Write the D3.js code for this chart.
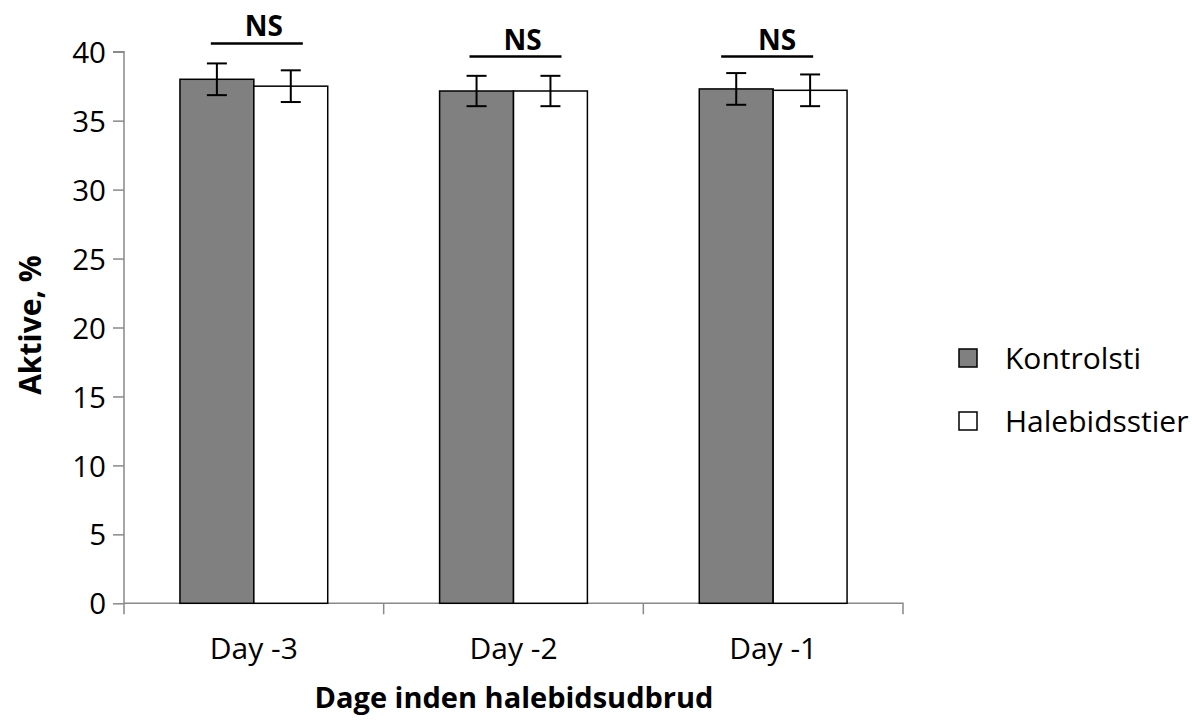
<!DOCTYPE html>
<html><head><meta charset="utf-8">
<script src="https://cdn.jsdelivr.net/npm/d3@7"></script>
<style>body{margin:0;background:#fff}svg{display:block}text{font-family:"Open Sans",sans-serif;fill:#000}</style>
</head><body>
<svg id="c" width="1192" height="720"></svg>
<script>
const categories = ["Day -3", "Day -2", "Day -1"];
const seriesNames = ["Kontrolsti", "Halebidsstier"];
const kontrolsti = [38.0, 37.15, 37.3];
const halebidsstier = [37.5, 37.15, 37.2];
const kontrolstiErr = [1.15, 1.1, 1.15];
const halebidsstierErr = [1.15, 1.1, 1.15];
const nsLabels = ["NS", "NS", "NS"];
const nsLevel = [40.6, 39.65, 39.65];
const yTicks = [0, 5, 10, 15, 20, 25, 30, 35, 40];
const seriesColors = ["#808080", "#ffffff"];

(function () {
const svg = d3.select("#c");
const pLeft = 124, pRight = 903, pTop = 51.7, pBottom = 603.3;
const x = d3.scaleBand().domain(categories).range([pLeft, pRight]).padding(0);
const xs = d3.scaleBand().domain(seriesNames).range([0, x.bandwidth()]).paddingInner(0).paddingOuter(0.757);
const y = d3.scaleLinear().domain([0, 40]).range([pBottom, pTop]);

const axisColor = "#898989";
// y axis
const ya = svg.append("g").attr("transform", `translate(${pLeft},0)`)
  .call(d3.axisLeft(y).tickValues(yTicks).tickSize(11).tickPadding(7).tickFormat(d3.format("d")));
ya.select(".domain").attr("stroke", axisColor).attr("stroke-width", 1.5).attr("d", `M0,${pBottom + 11}V${pTop}H-11`);
ya.selectAll(".tick line").attr("stroke", axisColor).attr("stroke-width", 1.5);
ya.selectAll(".tick text").style("font-size", "29.5px").style("font-family", "Open Sans").attr("fill", "#000").attr("dy", "0.36em");

// x axis
const xa = svg.append("g").attr("transform", `translate(0,${pBottom})`)
  .call(d3.axisBottom(x).tickSize(0).tickPadding(34));
xa.select(".domain").attr("stroke", axisColor).attr("stroke-width", 1.5).attr("d", `M${pLeft},0H${pRight}V11`);
xa.selectAll(".tick line").remove();
xa.selectAll(".tick text").style("font-size", "30px").style("font-family", "Open Sans").attr("fill", "#000");
svg.append("g").selectAll("line").data(categories.slice(1)).join("line")
  .attr("x1", d => x(d)).attr("x2", d => x(d)).attr("y1", pBottom).attr("y2", pBottom + 11)
  .attr("stroke", axisColor).attr("stroke-width", 1.5);

// bars
const rows = [];
categories.forEach((c, i) => {
  rows.push({c, s: seriesNames[0], v: kontrolsti[i], e: kontrolstiErr[i], col: seriesColors[0]});
  rows.push({c, s: seriesNames[1], v: halebidsstier[i], e: halebidsstierErr[i], col: seriesColors[1]});
});
const g = svg.append("g");
g.selectAll("rect").data(rows).join("rect")
  .attr("x", d => x(d.c) + xs(d.s)).attr("width", xs.bandwidth())
  .attr("y", d => y(d.v)).attr("height", d => y(0) - y(d.v))
  .attr("fill", d => d.col).attr("stroke", "#000").attr("stroke-width", 1.5);

// error bars
const cap = 10;
const eb = svg.append("g").attr("stroke", "#000").attr("stroke-width", 2);
rows.forEach(d => {
  const cx = x(d.c) + xs(d.s) + xs.bandwidth() / 2;
  eb.append("line").attr("x1", cx).attr("x2", cx).attr("y1", y(d.v + d.e)).attr("y2", y(d.v - d.e));
  eb.append("line").attr("x1", cx - cap).attr("x2", cx + cap).attr("y1", y(d.v + d.e)).attr("y2", y(d.v + d.e));
  eb.append("line").attr("x1", cx - cap).attr("x2", cx + cap).attr("y1", y(d.v - d.e)).attr("y2", y(d.v - d.e));
});

// NS annotations
const nsOffsets = [3, 2, -6];
const textOffsets = [10, 9, 4];
categories.forEach((c, i) => {
  const cx = x(c) + x.bandwidth() / 2 + nsOffsets[i];
  svg.append("line").attr("x1", cx - 46).attr("x2", cx + 46).attr("y1", y(nsLevel[i])).attr("y2", y(nsLevel[i]))
    .attr("stroke", "#000").attr("stroke-width", 2.5);
  svg.append("text").attr("x", x(c) + x.bandwidth() / 2 + textOffsets[i]).attr("y", y(nsLevel[i]) - 7)
    .attr("text-anchor", "middle").style("font-size", "28px").style("font-weight", "bold").text(nsLabels[i]);
});

// axis titles
svg.append("text").attr("transform", `translate(41,325) rotate(-90)`)
  .attr("text-anchor", "middle").style("font-size", "30px").style("font-weight", "bold").text("Aktive, %");
svg.append("text").attr("x", 514).attr("y", 708)
  .attr("text-anchor", "middle").style("font-size", "29px").style("font-weight", "bold").text("Dage inden halebidsudbrud");

// legend
const lg = svg.append("g");
seriesNames.forEach((s, i) => {
  const cy = 358 + i * 63;
  lg.append("rect").attr("x", 959).attr("y", cy - 9).attr("width", 18).attr("height", 18)
    .attr("fill", seriesColors[i]).attr("stroke", "#000").attr("stroke-width", 1.5);
  lg.append("text").attr("x", 1005).attr("y", cy).attr("dy", "0.36em").style("font-size", "30px").text(s);
});
})();
</script>
</body></html>
